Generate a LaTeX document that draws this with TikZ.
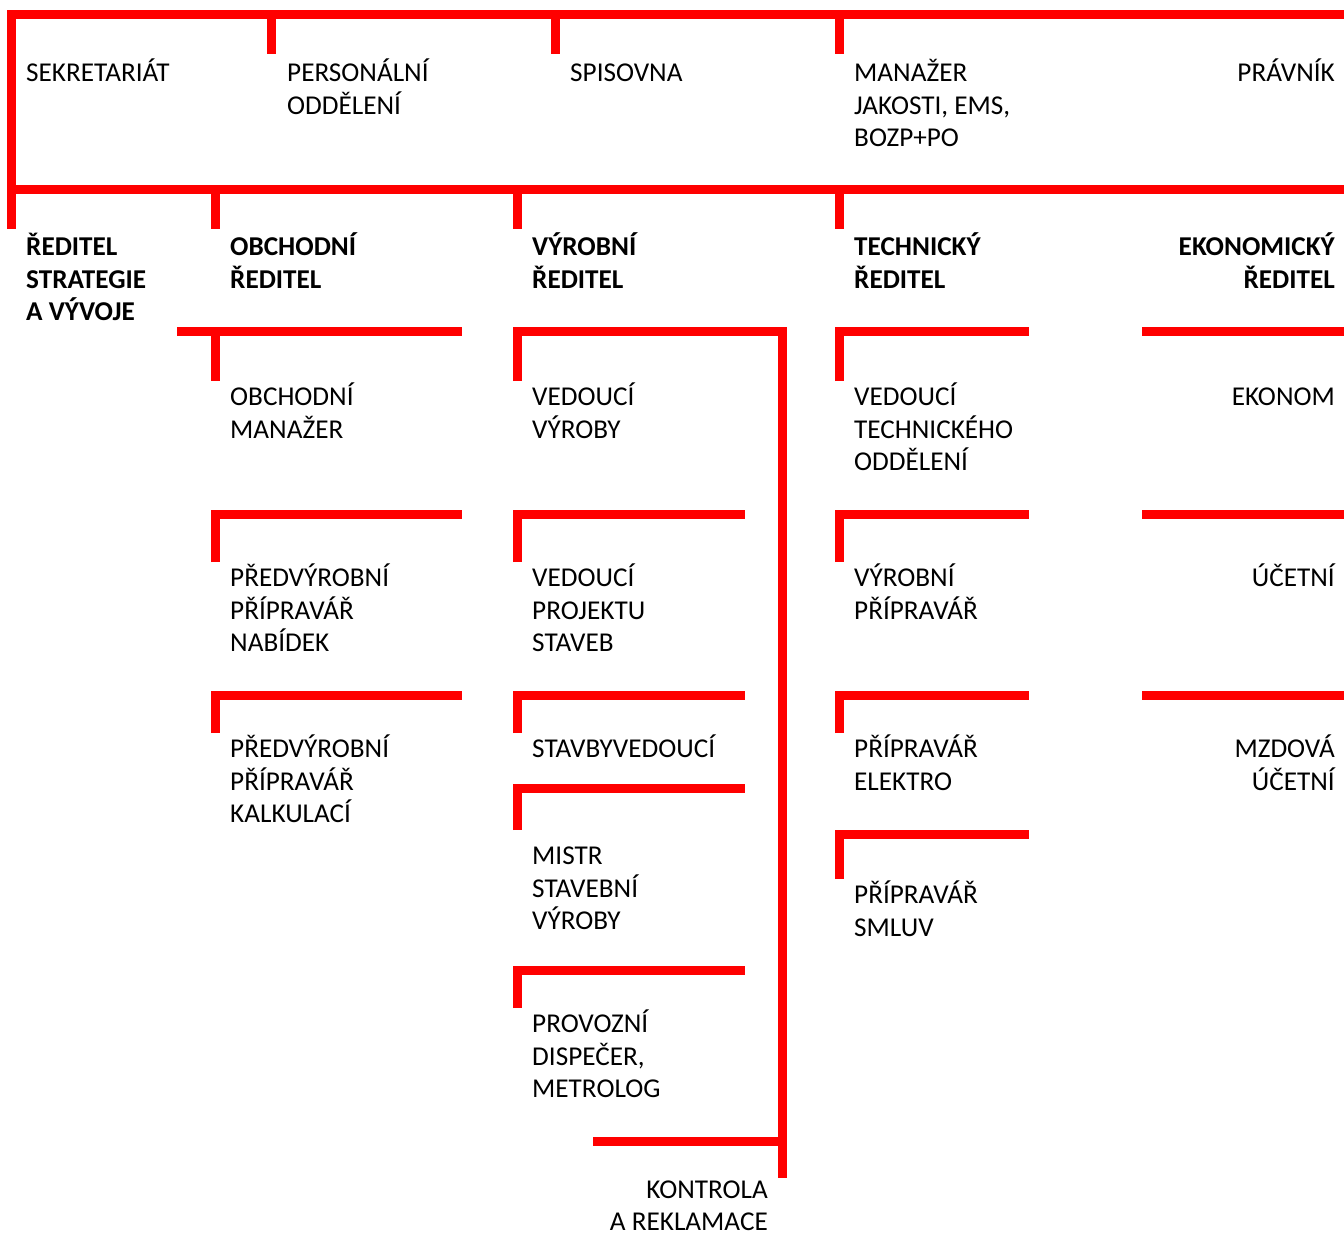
\documentclass[tikz,border=0pt]{standalone}
\usepackage{fontspec}
\setmainfont{Carlito}
\begin{document}
\begin{tikzpicture}[x=1pt,y=-1pt,
  bar/.style={draw=red,line width=9pt,line join=miter,line cap=butt},
  lbl/.style={inner sep=0pt,anchor=base west,align=left,font=\fontsize{27.2}{32.5}\selectfont},
  rlbl/.style={inner sep=0pt,anchor=base east,align=right,font=\fontsize{27.2}{32.5}\selectfont},
  blbl/.style={lbl,font=\fontsize{27.2}{32.5}\selectfont\bfseries},
  brlbl/.style={rlbl,font=\fontsize{27.2}{32.5}\selectfont\bfseries}]
\useasboundingbox (0,0) rectangle (1344,1237);
% top bracket
\draw[bar] (1344,14.5) -- (11.5,14.5) -- (11.5,229);
\draw[bar] (271.5,14.5) -- (271.5,54);
\draw[bar] (555.5,14.5) -- (555.5,54);
\draw[bar] (839.5,14.5) -- (839.5,54);
\draw[bar] (11.5,189.5) -- (1344,189.5);
\draw[bar] (215.5,189.5) -- (215.5,229);
\draw[bar] (517.5,189.5) -- (517.5,229);
\draw[bar] (839.5,189.5) -- (839.5,229);
% obchodni
\draw[bar] (177,331.5) -- (462,331.5);
\draw[bar] (215.5,331.5) -- (215.5,381);
\draw[bar] (215.5,562) -- (215.5,514.5) -- (462,514.5);
\draw[bar] (215.5,733) -- (215.5,695.3) -- (462,695.3);
% vyrobni
\draw[bar] (517.5,381) -- (517.5,331.5) -- (782.5,331.5) -- (782.5,1177.5);
\draw[bar] (517.5,562) -- (517.5,514.5) -- (745,514.5);
\draw[bar] (517.5,733) -- (517.5,695.3) -- (745,695.3);
\draw[bar] (517.5,830) -- (517.5,788.3) -- (745,788.3);
\draw[bar] (517.5,1008) -- (517.5,970.5) -- (745,970.5);
\draw[bar] (593,1141.3) -- (782.5,1141.3);
% technicky
\draw[bar] (839.5,381) -- (839.5,331.5) -- (1029,331.5);
\draw[bar] (839.5,562) -- (839.5,514.5) -- (1029,514.5);
\draw[bar] (839.5,733) -- (839.5,695.3) -- (1029,695.3);
\draw[bar] (839.5,879) -- (839.5,834.5) -- (1029,834.5);
% ekonomicky
\draw[bar] (1142,331.5) -- (1344,331.5);
\draw[bar] (1142,514.5) -- (1344,514.5);
\draw[bar] (1142,695.3) -- (1344,695.3);
% row 1 (base anchor = baseline of last line)
\node[lbl] (sek) at (26,81.5) {SEKRETARIÁT};
\node[lbl] (pers) at (287,114) {PERSONÁLNÍ\\ODDĚLENÍ};
\node[lbl] (spis) at (570,81.5) {SPISOVNA};
\node[lbl] (man) at (854,146.5) {MANAŽER\\JAKOSTI, EMS,\\BOZP+PO};
\node[rlbl] (prav) at (1335,81.5) {PRÁVNÍK};
% row 2
\node[blbl] (rsv) at (26,320.5) {ŘEDITEL\\STRATEGIE\\A VÝVOJE};
\node[blbl] (obr) at (230,288) {OBCHODNÍ\\ŘEDITEL};
\node[blbl] (vyr) at (532,288) {VÝROBNÍ\\ŘEDITEL};
\node[blbl] (tr) at (854,288) {TECHNICKÝ\\ŘEDITEL};
\node[brlbl] (er) at (1335,288) {EKONOMICKÝ\\ŘEDITEL};
% obchodni column
\node[lbl] (om) at (230,438) {OBCHODNÍ\\MANAŽER};
\node[lbl] (ppn) at (230,651.5) {PŘEDVÝROBNÍ\\PŘÍPRAVÁŘ\\NABÍDEK};
\node[lbl] (ppk) at (230,822.5) {PŘEDVÝROBNÍ\\PŘÍPRAVÁŘ\\KALKULACÍ};
% vyrobni column
\node[lbl] (vv) at (532,438) {VEDOUCÍ\\VÝROBY};
\node[lbl] (vps) at (532,651.5) {VEDOUCÍ\\PROJEKTU\\STAVEB};
\node[lbl] (sv) at (532,757.5) {STAVBYVEDOUCÍ};
\node[lbl] (msv) at (532,929.5) {MISTR\\STAVEBNÍ\\VÝROBY};
\node[lbl] (pdm) at (532,1097.5) {PROVOZNÍ\\DISPEČER,\\METROLOG};
\node[rlbl,text depth=0pt] (kr) at (768,1230.5) {KONTROLA\\A REKLAMACE};
% technicky column
\node[lbl] (vto) at (854,470.5) {VEDOUCÍ\\TECHNICKÉHO\\ODDĚLENÍ};
\node[lbl] (vp) at (854,619) {VÝROBNÍ\\PŘÍPRAVÁŘ};
\node[lbl] (pe) at (854,790) {PŘÍPRAVÁŘ\\ELEKTRO};
\node[lbl] (ps) at (854,936) {PŘÍPRAVÁŘ\\SMLUV};
% ekonomicky column
\node[rlbl] (ek) at (1335,405.5) {EKONOM};
\node[rlbl] (uc) at (1335,586.5) {ÚČETNÍ};
\node[rlbl] (mu) at (1335,790) {MZDOVÁ\\ÚČETNÍ};
\end{tikzpicture}
\end{document}
